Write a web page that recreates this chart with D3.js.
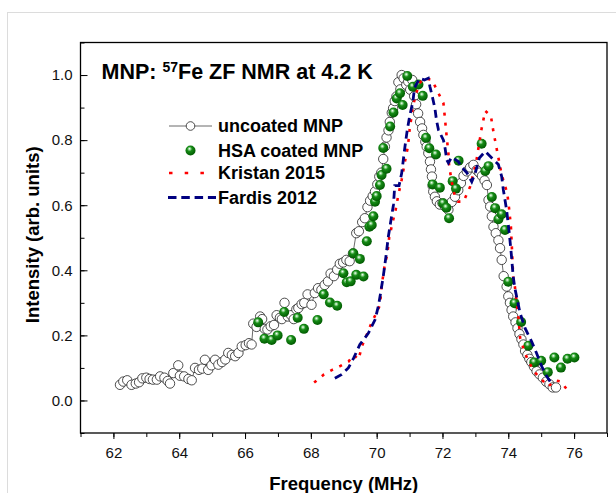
<!DOCTYPE html>
<html>
<head>
<meta charset="utf-8">
<script src="https://cdn.jsdelivr.net/npm/d3@7"></script>
<style>
  body { margin: 0; background: #fff; }
  svg { display: block; font-family: "Liberation Sans", Arial, sans-serif; }
</style>
</head>
<body>
<div id="chart"></div>
<script>
// ---- data ----
const uncoatedMHz = [62.20,62.30,62.42,62.55,62.68,62.78,62.88,63.00,63.10,63.20,63.32,63.42,63.55,63.65,63.72,63.82,63.97,64.02,64.15,64.28,64.38,64.48,64.60,64.70,64.78,64.88,64.98,65.09,65.19,65.30,65.40,65.49,65.60,65.70,65.80,65.90,66.02,66.12,66.20,66.25,66.35,66.46,66.52,66.60,66.68,66.78,66.88,66.96,67.06,67.12,67.20,67.30,67.40,67.48,67.56,67.62,67.72,67.80,67.90,68.02,68.12,68.22,68.32,68.42,68.52,68.60,68.70,68.80,68.88,68.98,69.08,69.18,69.28,69.38,69.46,69.56,69.64,69.72,69.80,69.88,69.95,70.02,70.08,70.14,70.20,70.25,70.30,70.36,70.40,70.46,70.50,70.55,70.60,70.66,70.72,70.76,70.82,70.90,70.96,71.02,71.08,71.14,71.20,71.26,71.32,71.38,71.42,71.48,71.52,71.57,71.62,71.65,71.68,71.70,71.72,71.77,71.83,71.92,72.00,72.08,72.18,72.28,72.38,72.48,72.56,72.64,72.74,72.84,72.94,73.04,73.12,73.20,73.28,73.35,73.40,73.45,73.50,73.55,73.62,73.70,73.75,73.80,73.86,73.95,74.00,74.05,74.10,74.15,74.22,74.28,74.34,74.40,74.46,74.51,74.58,74.64,74.70,74.78,74.86,74.95,75.05,75.15,75.25,75.35,75.45];
const uncoatedI = [0.048,0.058,0.062,0.048,0.052,0.056,0.068,0.070,0.066,0.064,0.064,0.074,0.070,0.060,0.052,0.084,0.108,0.076,0.074,0.066,0.062,0.100,0.094,0.098,0.125,0.094,0.108,0.125,0.110,0.118,0.126,0.146,0.140,0.136,0.146,0.166,0.170,0.176,0.172,0.236,0.226,0.258,0.250,0.220,0.218,0.228,0.232,0.262,0.254,0.250,0.300,0.258,0.262,0.250,0.280,0.284,0.296,0.300,0.326,0.294,0.330,0.345,0.340,0.355,0.366,0.390,0.382,0.402,0.420,0.424,0.432,0.428,0.452,0.514,0.520,0.548,0.560,0.594,0.614,0.628,0.642,0.664,0.688,0.700,0.742,0.780,0.808,0.830,0.856,0.884,0.898,0.920,0.934,0.978,0.956,1.000,0.990,0.970,0.980,0.955,0.985,0.935,0.910,0.882,0.856,0.836,0.816,0.795,0.780,0.760,0.734,0.710,0.688,0.660,0.642,0.626,0.612,0.602,0.606,0.596,0.586,0.610,0.626,0.646,0.668,0.690,0.704,0.716,0.724,0.708,0.700,0.690,0.676,0.662,0.616,0.596,0.566,0.534,0.514,0.492,0.468,0.432,0.382,0.350,0.320,0.300,0.278,0.258,0.240,0.222,0.204,0.188,0.172,0.152,0.140,0.128,0.118,0.104,0.090,0.080,0.070,0.058,0.050,0.040,0.040];

const hsaMHz = [66.40,66.59,66.81,66.99,67.19,67.40,67.60,67.79,68.20,68.39,68.58,68.80,68.99,69.09,69.21,69.29,69.38,69.49,69.60,69.70,69.78,69.85,69.90,69.95,70.00,70.10,70.15,70.20,70.30,70.41,70.51,70.61,70.71,70.79,70.93,71.10,71.27,71.40,71.50,71.60,71.70,71.80,71.92,72.02,72.12,72.20,72.31,72.41,72.49,73.19,73.30,73.40,73.50,73.60,73.70,73.80,73.90,74.00,74.19,74.39,74.61,74.79,75.00,75.20,75.40,75.60,75.80,76.01];
const hsaI = [0.240,0.190,0.186,0.200,0.272,0.186,0.254,0.220,0.247,0.326,0.301,0.291,0.391,0.363,0.366,0.452,0.386,0.435,0.381,0.489,0.534,0.539,0.566,0.611,0.628,0.662,0.693,0.776,0.712,0.842,0.885,0.928,0.944,0.908,0.997,0.964,0.971,0.936,0.807,0.775,0.664,0.756,0.654,0.606,0.592,0.560,0.674,0.651,0.737,0.789,0.705,0.720,0.625,0.591,0.557,0.572,0.524,0.365,0.299,0.241,0.168,0.117,0.122,0.087,0.132,0.101,0.128,0.132];

const kristanMHz = [68.10,68.40,68.65,68.90,69.15,69.30,69.45,69.55,69.70,69.85,70.00,70.10,70.15,70.25,70.32,70.38,70.49,70.57,70.66,70.76,70.85,70.95,71.00,71.10,71.17,71.30,71.45,71.68,71.85,72.03,72.08,72.13,72.18,72.20,72.28,72.38,72.48,72.64,72.84,73.02,73.19,73.30,73.47,73.55,73.65,73.80,73.90,73.97,74.03,74.08,74.12,74.15,74.20,74.31,74.36,74.51,74.64,74.81,74.97,75.22,75.42,75.60,75.81];
const kristanI = [0.055,0.080,0.094,0.106,0.120,0.140,0.126,0.166,0.202,0.240,0.270,0.294,0.350,0.420,0.447,0.500,0.550,0.582,0.632,0.678,0.729,0.780,0.831,0.900,0.933,0.975,0.990,0.985,0.950,0.913,0.862,0.808,0.760,0.724,0.672,0.626,0.611,0.611,0.657,0.730,0.836,0.890,0.875,0.825,0.772,0.693,0.660,0.636,0.585,0.534,0.447,0.376,0.350,0.253,0.192,0.145,0.115,0.086,0.069,0.043,0.062,0.058,0.030];

const fardisMHz = [68.73,68.94,69.14,69.30,69.49,69.75,69.95,70.05,70.12,70.20,70.28,70.35,70.42,70.51,70.55,70.68,70.76,70.81,70.86,70.93,71.00,71.10,71.15,71.30,71.45,71.57,71.62,71.70,71.77,71.82,71.88,72.03,72.08,72.13,72.18,72.28,72.48,72.60,72.74,72.89,73.00,73.12,73.30,73.50,73.70,73.80,73.85,73.95,74.03,74.09,74.15,74.20,74.36,74.51,74.71,74.86,75.02,75.17,75.27];
const fardisI = [0.068,0.080,0.100,0.130,0.172,0.207,0.248,0.289,0.330,0.381,0.440,0.500,0.545,0.601,0.660,0.660,0.698,0.739,0.780,0.831,0.872,0.918,0.960,0.990,0.985,0.990,0.964,0.930,0.898,0.860,0.831,0.800,0.775,0.739,0.730,0.748,0.734,0.715,0.700,0.672,0.700,0.745,0.765,0.745,0.725,0.688,0.647,0.585,0.514,0.452,0.380,0.345,0.268,0.222,0.181,0.145,0.104,0.074,0.058];

const xMajorTicks = [62, 64, 66, 68, 70, 72, 74, 76];
const yMajorTicks = [0.0, 0.2, 0.4, 0.6, 0.8, 1.0];
const legendLabels = ["uncoated MNP", "HSA coated MNP", "Kristan 2015", "Fardis 2012"];

// ---- layout ----
const width = 616;
const height = 493;
const plotLeft = 80.5;
const plotRight = 607;
const plotTop = 42.5;
const plotBottom = 433;

const x = d3.scaleLinear().domain([61, 77]).range([plotLeft, plotRight]);
const y = d3.scaleLinear().domain([-0.1, 1.1]).range([plotBottom, plotTop]);

const zip = (xs, ys) => xs.map((f, i) => ({ f: f, v: ys[i] }));
const uncoated = zip(uncoatedMHz, uncoatedI);
const hsa = zip(hsaMHz, hsaI);
const kristan = zip(kristanMHz, kristanI);
const fardis = zip(fardisMHz, fardisI);

const svg = d3.select("#chart").append("svg")
    .attr("width", width)
    .attr("height", height)
    .attr("viewBox", [0, 0, width, height]);

// green ball gradient
const grad = svg.append("defs").append("radialGradient")
    .attr("id", "ball")
    .attr("cx", "42%").attr("cy", "38%").attr("r", "62%")
    .attr("fx", "40%").attr("fy", "32%");
grad.append("stop").attr("offset", "0%").attr("stop-color", "#ffffff");
grad.append("stop").attr("offset", "18%").attr("stop-color", "#8fd48f");
grad.append("stop").attr("offset", "40%").attr("stop-color", "#178c17");
grad.append("stop").attr("offset", "100%").attr("stop-color", "#005a00");

// outer panel border (light gray)
svg.append("rect")
    .attr("x", 7.5).attr("y", 12.5)
    .attr("width", 700).attr("height", 700)
    .attr("fill", "none")
    .attr("stroke", "#dcdcdc");

// x axis (ticks point outward)
svg.append("g")
    .attr("transform", `translate(0,${plotBottom})`)
    .call(d3.axisBottom(x).tickValues(d3.range(61, 78, 1)).tickFormat("").tickSize(4))
    .call(g => g.select(".domain").remove());
svg.append("g")
    .attr("transform", `translate(0,${plotBottom})`)
    .call(d3.axisBottom(x).tickValues(xMajorTicks).tickFormat(d3.format("d")).tickSize(6).tickPadding(8))
    .call(g => g.select(".domain").remove())
    .call(g => g.selectAll("text").attr("font-size", 15).attr("fill", "#111"));

// y axis (ticks point inward)
svg.append("g")
    .attr("transform", `translate(${plotLeft},0)`)
    .call(d3.axisLeft(y).tickValues(d3.range(-0.1, 1.15, 0.1)).tickFormat("").tickSizeInner(-4).tickSizeOuter(0))
    .call(g => g.select(".domain").remove());
svg.append("g")
    .attr("transform", `translate(${plotLeft},0)`)
    .call(d3.axisLeft(y).tickValues(yMajorTicks).tickFormat(d3.format(".1f")).tickSizeInner(-7).tickSizeOuter(0).tickPadding(8))
    .call(g => g.select(".domain").remove())
    .call(g => g.selectAll("text").attr("font-size", 15).attr("fill", "#111"));

// plot frame
svg.append("rect")
    .attr("x", plotLeft).attr("y", plotTop)
    .attr("width", plotRight - plotLeft).attr("height", plotBottom - plotTop)
    .attr("fill", "none")
    .attr("stroke", "#000")
    .attr("stroke-width", 1.3);

// axis titles
svg.append("text")
    .attr("x", (plotLeft + plotRight) / 2)
    .attr("y", 490)
    .attr("text-anchor", "middle")
    .attr("font-size", 18.5)
    .attr("font-weight", "bold")
    .text("Frequency (MHz)");

svg.append("text")
    .attr("transform", `translate(39,${(plotTop + plotBottom) / 2 - 3}) rotate(-90)`)
    .attr("text-anchor", "middle")
    .attr("font-size", 18.5)
    .attr("font-weight", "bold")
    .text("Intensity (arb. units)");

// title
const title = svg.append("text")
    .attr("x", 101.5)
    .attr("y", 79)
    .attr("font-weight", "bold")
    .attr("font-size", 21.5);
title.append("tspan").text("MNP: ");
title.append("tspan").attr("font-size", 14).attr("dy", -7).text("57");
title.append("tspan").attr("dy", 7).text("Fe ZF NMR at 4.2 K");

// line generator
const line = d3.line().x(d => x(d.f)).y(d => y(d.v));

// uncoated MNP: thin line + open circles
svg.append("path")
    .datum(uncoated)
    .attr("fill", "none")
    .attr("stroke", "#444")
    .attr("stroke-width", 0.8)
    .attr("d", line);

svg.append("g")
    .attr("fill", "#fff")
    .attr("stroke", "#222")
    .attr("stroke-width", 0.8)
  .selectAll("circle")
  .data(uncoated)
  .join("circle")
    .attr("cx", d => x(d.f))
    .attr("cy", d => y(d.v))
    .attr("r", 4.7);

// HSA coated MNP: green balls
svg.append("g")
  .selectAll("circle")
  .data(hsa)
  .join("circle")
    .attr("cx", d => x(d.f))
    .attr("cy", d => y(d.v))
    .attr("r", 5)
    .attr("fill", "url(#ball)");

// Kristan 2015: red dotted
svg.append("path")
    .datum(kristan)
    .attr("fill", "none")
    .attr("stroke", "#ff0000")
    .attr("stroke-width", 2.6)
    .attr("stroke-dasharray", "3,7")
    .attr("d", line);

// Fardis 2012: navy dashed
svg.append("path")
    .datum(fardis)
    .attr("fill", "none")
    .attr("stroke", "#000080")
    .attr("stroke-width", 2.8)
    .attr("stroke-dasharray", "8,5")
    .attr("d", line);

// legend
const legend = svg.append("g");
const rowY = [126, 150.5, 173, 197.5];
legend.selectAll("text")
  .data(legendLabels)
  .join("text")
    .attr("x", 218)
    .attr("y", (d, i) => rowY[i] + 6)
    .attr("font-size", 18)
    .attr("font-weight", "bold")
    .text(d => d);

legend.append("line")
    .attr("x1", 169).attr("x2", 212)
    .attr("y1", rowY[0]).attr("y2", rowY[0])
    .attr("stroke", "#444").attr("stroke-width", 0.8);
legend.append("circle")
    .attr("cx", 190.5).attr("cy", rowY[0]).attr("r", 4.3)
    .attr("fill", "#fff").attr("stroke", "#222").attr("stroke-width", 0.8);
legend.append("circle")
    .attr("cx", 190.5).attr("cy", rowY[1]).attr("r", 5)
    .attr("fill", "url(#ball)");
legend.append("line")
    .attr("x1", 169).attr("x2", 214)
    .attr("y1", rowY[2]).attr("y2", rowY[2])
    .attr("stroke", "#ff0000").attr("stroke-width", 2.6)
    .attr("stroke-dasharray", "3.5,12.2");
legend.append("line")
    .attr("x1", 168).attr("x2", 216)
    .attr("y1", rowY[3]).attr("y2", rowY[3])
    .attr("stroke", "#000080").attr("stroke-width", 2.8)
    .attr("stroke-dasharray", "8.5,4.8");
</script>
</body>
</html>
